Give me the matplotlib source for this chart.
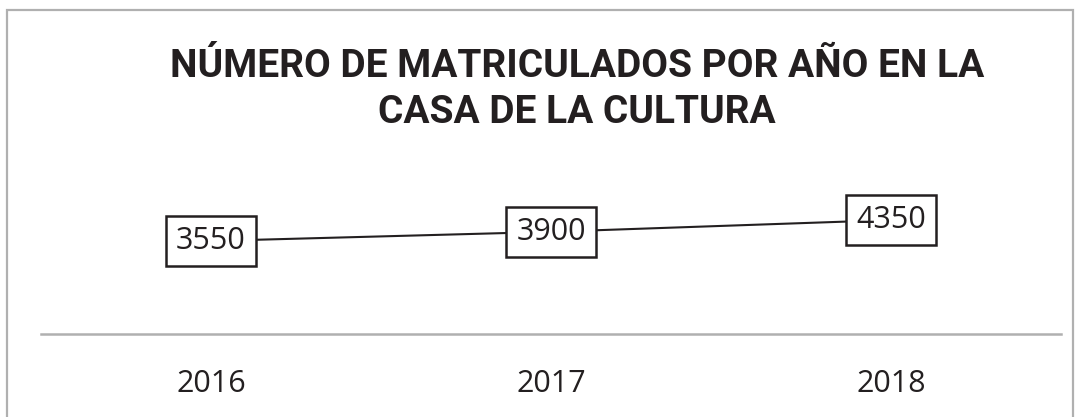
import matplotlib
matplotlib.use("Agg")
import matplotlib.pyplot as plt
from matplotlib.patches import Rectangle

years = ["2016", "2017", "2018"]
matriculados = [3550, 3900, 4350]
titulo = "NÚMERO DE MATRICULADOS POR AÑO EN LA\nCASA DE LA CULTURA"

plt.rcParams['font.family'] = ['Open Sans', 'DejaVu Sans']

fig = plt.figure(figsize=(10.81, 4.17), dpi=100)
W, H = 1081, 417

# outer chart border (bottom edge is cut off in the original)
fig.patches.append(Rectangle((7 / W, -0.05), (1073 - 7) / W, (H - 10) / H + 0.05,
                             transform=fig.transFigure, fill=False,
                             edgecolor='#b0b0b0', linewidth=1.6))

ax = fig.add_axes([41 / W, (H - 334) / H, (1061 - 41) / W, 131 / H])
x = range(len(years))
ax.plot(x, matriculados, color='#231f20', linewidth=1.5, zorder=2)
for xi, v in zip(x, matriculados):
    ax.text(xi, v, str(v), ha='center', va='center', fontsize=22, color='#231f20',
            zorder=3,
            bbox=dict(boxstyle='square,pad=0.33', facecolor='white',
                      edgecolor='#231f20', linewidth=1.8))

ax.set_xlim(-0.5, len(years) - 0.5)
ax.set_ylim(0, 5000)
ax.set_xticks(list(x))
ax.set_xticklabels(years, fontsize=22, color='#231f20')
ax.tick_params(axis='x', length=0, pad=25)
ax.set_yticks([])
for s in ['top', 'left', 'right']:
    ax.spines[s].set_visible(False)
ax.spines['bottom'].set_color('#b0b0b0')
ax.spines['bottom'].set_linewidth(1.8)

fig.text(577 / W, 1 - 48 / H, titulo, ha='center', va='top', fontsize=28,
         fontweight='bold', color='#231f20', linespacing=1.3,
         family=['Roboto', 'DejaVu Sans'])

fig.savefig("out.png", dpi=100)
